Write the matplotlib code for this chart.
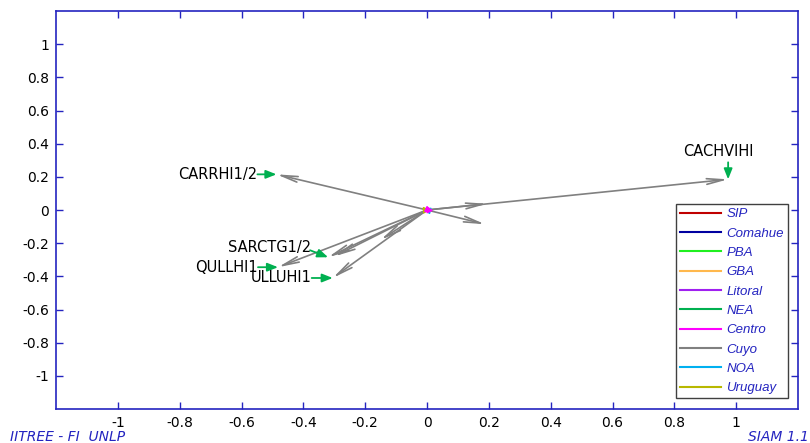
import matplotlib
matplotlib.use("Agg")
import matplotlib.pyplot as plt
from matplotlib.lines import Line2D

# series shown in the legend
regions = ["SIP", "Comahue", "PBA", "GBA", "Litoral", "NEA", "Centro", "Cuyo", "NOA", "Uruguay"]
region_colors = ["#c00000", "#0000a0", "#20f020", "#ffb84d", "#a020f0",
                 "#00b050", "#ff00ff", "#808080", "#00b0f0", "#b8b800"]

# Cuyo vectors (from origin)
cuyo_x = [-0.487, 0.974, 0.195, 0.188, -0.482, -0.320, -0.300, -0.305, -0.150]
cuyo_y = [0.215, 0.185, 0.038, -0.086, -0.345, -0.285, -0.280, -0.410, -0.180]
cuyo_names = ["CARRHI1/2", "CACHVIHI", "", "", "QULLHI1", "SARCTG1/2", "", "ULLUHI1", ""]

# tiny vectors of the other series near the origin
small_series = ["NOA", "Uruguay", "Centro", "Centro"]
small_x = [-0.008, 0.008, -0.010, 0.020]
small_y = [0.004, 0.001, -0.014, -0.003]

blue = "#2424c0"

fig = plt.figure(figsize=(8.1, 4.43), dpi=100)
ax = fig.add_axes([56/810, 1-409/443, (798-56)/810, (409-11)/443])
ax.set_xlim(-1.2, 1.2)
ax.set_ylim(-1.2, 1.2)

ticks = [-1, -0.8, -0.6, -0.4, -0.2, 0, 0.2, 0.4, 0.6, 0.8, 1]
ax.set_xticks(ticks)
ax.set_yticks(ticks)
ax.set_xticklabels(["%g" % t for t in ticks])
ax.set_yticklabels(["%g" % t for t in ticks])
ax.tick_params(direction="in", length=5, width=1, color=blue, labelsize=10,
               top=True, right=True, pad=5)
for s in ax.spines.values():
    s.set_color(blue)
    s.set_linewidth(1.2)

# gray Cuyo arrows
for x, y in zip(cuyo_x, cuyo_y):
    ax.annotate("", xy=(x, y), xytext=(0, 0),
                arrowprops=dict(arrowstyle="->,head_length=1.0,head_width=0.17",
                                color="#808080", lw=1.2, shrinkA=0, shrinkB=0,
                                mutation_scale=12))

for name, x, y in zip(small_series, small_x, small_y):
    c = region_colors[regions.index(name)]
    ax.annotate("", xy=(x, y), xytext=(0, 0),
                arrowprops=dict(arrowstyle="-|>,head_length=0.5,head_width=0.3",
                                color=c, lw=1.2, shrinkA=0, shrinkB=0,
                                mutation_scale=6))

# label placement: (arrow start offset, text offset, ha, va) in pixels
placement = {
    "CARRHI1/2": ((-19, 0), (-19, 0), "right", "center"),
    "CACHVIHI": ((0, 17), (-10, 28), "center", "center"),
    "QULLHI1": ((-20, 0), (-20, 0), "right", "center"),
    "SARCTG1/2": ((-18, 7), (-17, 10), "right", "center"),
    "ULLUHI1": ((-21, 0), (-21, 0), "right", "center"),
}
for name, x, y in zip(cuyo_names, cuyo_x, cuyo_y):
    if not name:
        continue
    a_off, t_off, ha, va = placement[name]
    ax.annotate("", xy=(x, y), xytext=a_off, textcoords="offset pixels",
                arrowprops=dict(arrowstyle="-|>,head_length=0.7,head_width=0.28",
                                color="#00b050", lw=1.3, shrinkA=0, shrinkB=0,
                                mutation_scale=9))
    ax.annotate(name, xy=(x, y), xytext=t_off, textcoords="offset pixels",
                ha=ha, va=va, fontsize=10.5, color="black")

handles = [Line2D([], [], color=c, lw=1.5) for c in region_colors]
leg = ax.legend(handles, regions, loc="upper left",
                bbox_to_anchor=(676/810, 1-204/443), bbox_transform=fig.transFigure,
                borderaxespad=0, frameon=True, fancybox=False, framealpha=1,
                edgecolor="#404040", handlelength=3.1, handletextpad=0.4,
                labelspacing=0.54, borderpad=0.3,
                prop={"family": "Liberation Sans", "style": "italic", "size": 9.5})
leg.get_frame().set_linewidth(1)
for t in leg.get_texts():
    t.set_color(blue)

fig.text(10/810, 1-437/443, "IITREE - FI  UNLP", color=blue, fontsize=10,
         style="italic", ha="left", va="center")
fig.text(748/810, 1-437/443, "SIAM 1.1", color=blue, fontsize=10,
         style="italic", ha="left", va="center")

fig.savefig("out.png", dpi=100)
